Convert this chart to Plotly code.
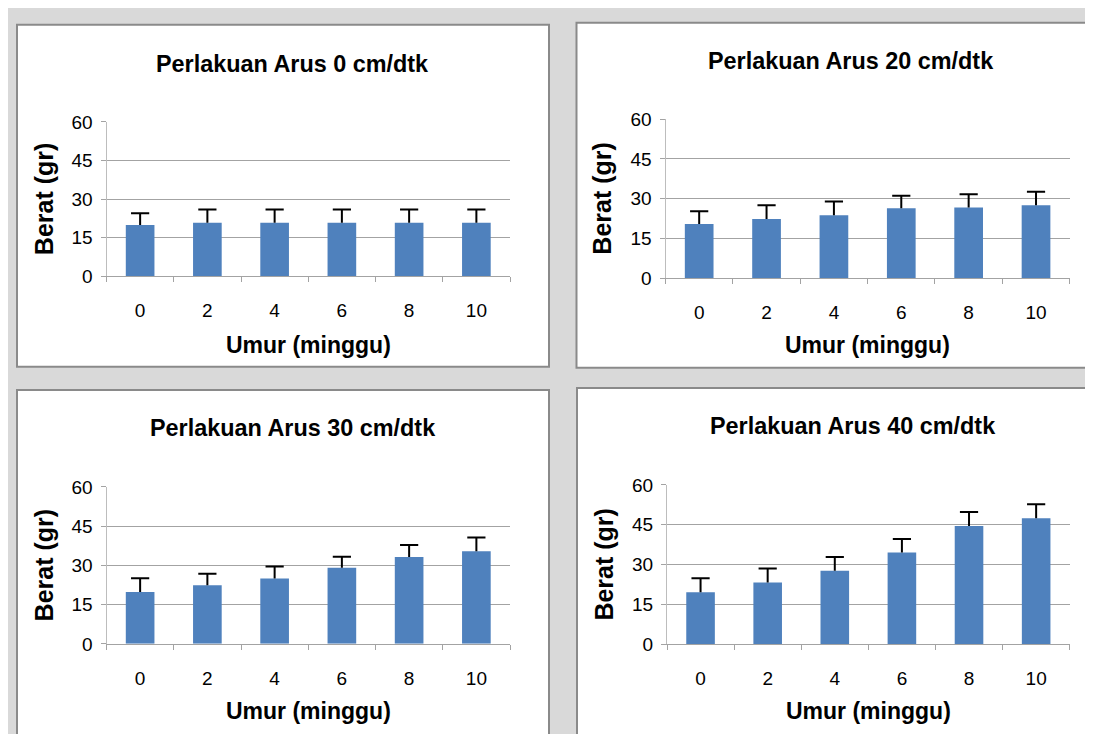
import plotly.graph_objects as go

W, H = 1093, 734

weeks = ["0", "2", "4", "6", "8", "10"]
titles = ["Perlakuan Arus 0 cm/dtk", "Perlakuan Arus 20 cm/dtk",
          "Perlakuan Arus 30 cm/dtk", "Perlakuan Arus 40 cm/dtk"]
arus0 = [20.0, 20.8, 20.8, 20.8, 20.8, 20.8]
err0 = [4.5, 5.2, 5.2, 5.2, 5.2, 5.2]
arus20 = [20.5, 22.3, 23.8, 26.4, 26.7, 27.5]
err20 = [4.8, 5.2, 5.1, 4.7, 5.0, 5.1]
arus30 = [19.8, 22.4, 25.0, 29.1, 33.2, 35.4]
err30 = [5.3, 4.4, 4.6, 4.2, 4.6, 5.3]
arus40 = [19.6, 23.3, 27.7, 34.6, 44.5, 47.5]
err40 = [5.3, 5.2, 5.2, 5.0, 5.3, 5.2]
y_ticks = [0, 15, 30, 45, 60]
x_title = "Umur (minggu)"
y_title = "Berat (gr)"

series = [(arus0, err0), (arus20, err20), (arus30, err30), (arus40, err40)]

# layout geometry in pixels: plot area (x0, x1, ytop, ybottom), box (x0, y0, x1, y1)
plots = [(98.5, 502, 107, 266), (657.5, 1061.7, 104, 268),
         (98.5, 502, 482.7, 644.3), (659, 1061.7, 480.7, 644.7)]
boxes = [(9, 7, 541, 359), (568.5, 5, 1100, 360),
         (9, 383, 541, 740), (569, 381, 1100, 740)]
title_pos = [(284, 47), (843, 44), (285, 422), (845, 420)]
ytitle_x = [36, 594, 36, 596]
xtitle_y = [337, 337, 713, 713]

FONT = "Arial, Liberation Sans, sans-serif"
BAR = "#4f81bd"
GRID = "#a3a3a3"

def px(x):
    return x / W

def py(y):
    return 1 - y / H

fig = go.Figure()
shapes = []
annotations = []

for i, ((vals, errs), (x0, x1, yt, yb)) in enumerate(zip(series, plots)):
    n = "" if i == 0 else str(i + 1)
    tops = [v + e for v, e in zip(vals, errs)]
    fig.add_trace(go.Bar(
        x=weeks, y=vals, xaxis="x" + n, yaxis="y" + n,
        marker=dict(color=BAR, line=dict(width=0)),
        error_y=dict(type="data", symmetric=False, array=errs,
                     arrayminus=[0] * len(errs), color="black",
                     thickness=2, width=0),
        showlegend=False, hoverinfo="x+y",
    ))
    # error-bar caps (top only)
    fig.add_trace(go.Scatter(
        x=weeks, y=tops, xaxis="x" + n, yaxis="y" + n, mode="markers",
        marker=dict(symbol="line-ew", size=13, color="black",
                    line=dict(color="black", width=2)),
        showlegend=False, hoverinfo="skip",
    ))
    fig.layout["xaxis" + n] = dict(
        domain=[px(x0), px(x1)], anchor="y" + n, type="category",
        tickson="boundaries", ticks="outside", ticklen=5, tickcolor=GRID,
        showline=True, linecolor=GRID, linewidth=1, showgrid=False,
        tickfont=dict(family=FONT, size=19, color="black"),
        ticklabelstandoff=17, fixedrange=True,
    )
    fig.layout["yaxis" + n] = dict(
        domain=[py(yb), py(yt)], anchor="x" + n, range=[0, 60],
        tickvals=y_ticks, ticks="outside", ticklen=5, tickcolor=GRID,
        showline=True, linecolor="#bdbdbd", linewidth=1,
        showgrid=True, gridcolor=GRID, gridwidth=1, zeroline=False,
        tickfont=dict(family=FONT, size=19, color="black"),
        ticklabelstandoff=4, fixedrange=True,
    )
    bx0, by0, bx1, by1 = boxes[i]
    shapes.append(dict(type="rect", xref="paper", yref="paper",
                       x0=px(bx0), x1=px(bx1), y0=py(by1), y1=py(by0),
                       fillcolor="white", line=dict(color="#8a8a8a", width=2),
                       layer="below"))
    tx, ty = title_pos[i]
    annotations.append(dict(text="<b>" + titles[i] + "</b>", x=px(tx), y=py(ty),
                            xref="paper", yref="paper", showarrow=False,
                            xanchor="center", yanchor="middle",
                            font=dict(family=FONT, size=23.4, color="black")))
    annotations.append(dict(text="<b>" + y_title + "</b>", x=px(ytitle_x[i]),
                            y=py((yt + yb) / 2), xref="paper", yref="paper",
                            showarrow=False, textangle=-90,
                            xanchor="center", yanchor="middle",
                            font=dict(family=FONT, size=25, color="black")))
    annotations.append(dict(text="<b>" + x_title + "</b>", x=px((x0 + x1) / 2),
                            y=py(xtitle_y[i]), xref="paper", yref="paper",
                            showarrow=False, xanchor="center", yanchor="middle",
                            font=dict(family=FONT, size=23, color="black")))

fig.update_layout(
    width=W, height=H, margin=dict(l=0, r=0, t=0, b=0),
    paper_bgcolor="#d9d9d9", plot_bgcolor="rgba(0,0,0,0)",
    bargap=0.574, shapes=shapes, annotations=annotations,
)

fig.write_html("out.html")
